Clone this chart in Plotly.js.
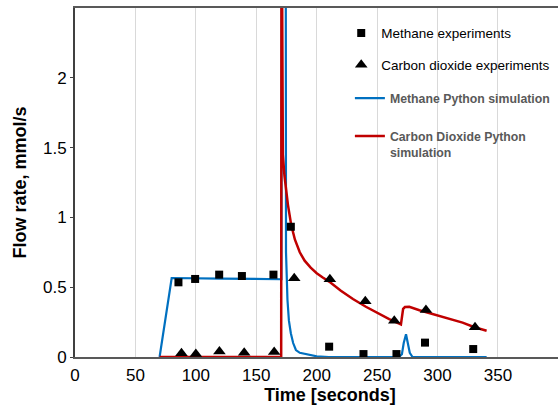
<!DOCTYPE html>
<html>
<head>
<meta charset="utf-8">
<script src="https://cdn.plot.ly/plotly-3.0.1.min.js"></script>
<style>
html, body { margin: 0; padding: 0; overflow: hidden; background: #fff; }
#chart { width: 600px; height: 412px; }
</style>
</head>
<body>
<div id="chart"></div>
<script>
// ---- data ----
const methaneExpTime = [85.6, 99.4, 119.3, 138.1, 164.2, 178.6, 210.3, 238.7, 266.0, 289.6, 329.5];
const methaneExpFlow = [0.535, 0.559, 0.590, 0.580, 0.590, 0.933, 0.074, 0.021, 0.021, 0.103, 0.057];

const co2ExpTime = [88.1, 100.0, 119.5, 140.0, 164.8, 181.4, 210.9, 240.2, 264.2, 290.4, 331.0];
const co2ExpFlow = [0.027, 0.022, 0.04, 0.03, 0.035, 0.564, 0.557, 0.40, 0.26, 0.337, 0.213];

const methaneSimTime = [70, 80, 120, 170.8, 171.2, 174.3, 174.6, 175.8, 177.0, 178.6, 180.5, 182.8, 186, 191, 200, 210, 268, 270.5, 272, 273.9, 275.5, 277, 279.3, 340.6];
const methaneSimFlow = [0, 0.566, 0.562, 0.557, 4.0, 4.0, 0.75, 0.41, 0.26, 0.17, 0.10, 0.05, 0.03, 0.02, 0.005, 0, 0, 0.02, 0.10, 0.163, 0.10, 0.03, 0, 0];

const co2SimTime = [70, 170.6, 170.9, 172.0, 173.3, 176.2, 178.9, 182, 186, 190, 195, 200, 205, 210.3, 220, 230, 240.7, 250, 260, 269.7, 270.5, 271.5, 273, 276.6, 285, 298.7, 310, 320.7, 330, 340.6];
const co2SimFlow = [0, 0, 3.5, 1.45, 1.30, 1.09, 0.946, 0.84, 0.75, 0.69, 0.64, 0.60, 0.57, 0.54, 0.475, 0.415, 0.36, 0.315, 0.272, 0.234, 0.30, 0.345, 0.358, 0.36, 0.335, 0.30, 0.27, 0.246, 0.215, 0.188];

const xTickVals = [0, 50, 100, 150, 200, 250, 300, 350];
const yTickVals = [0, 0.5, 1, 1.5, 2];
const yTickText = ["0", "0.5", "1", "1.5", "2"];

const FONT = "Liberation Sans, Arial, sans-serif";

const traces = [
  {
    x: methaneSimTime, y: methaneSimFlow, type: "scatter", mode: "lines",
    name: "Methane Python simulation",
    line: { color: "#0070C0", width: 2.2 },
    legend: "legend3"
  },
  {
    x: co2SimTime, y: co2SimFlow, type: "scatter", mode: "lines",
    name: "Carbon Dioxide Python<br>simulation",
    line: { color: "#C00000", width: 2.5 },
    legend: "legend4"
  },
  {
    x: methaneExpTime, y: methaneExpFlow, type: "scatter", mode: "markers",
    name: "Methane experiments",
    marker: { symbol: "square", size: 8, color: "#000" },
    legend: "legend"
  },
  {
    x: co2ExpTime, y: co2ExpFlow, type: "scatter", mode: "markers",
    name: "Carbon dioxide experiments",
    marker: { symbol: "triangle-up", size: 11, color: "#000" },
    legend: "legend2"
  }
];

const expLegendFont = { family: FONT, size: 13.5, color: "#000" };
const simLegendFont = { family: FONT, size: 12.3, color: "#595959", weight: "bold" };

const layout = {
  width: 600, height: 412,
  margin: { l: 75, r: 15, t: 8, b: 55 },
  paper_bgcolor: "#fff", plot_bgcolor: "#fff",
  font: { family: FONT, color: "#000" },
  showlegend: true,
  legend:  { x: 0.522, y: 0.928, xanchor: "left", yanchor: "middle", font: expLegendFont, bgcolor: "rgba(0,0,0,0)" },
  legend2: { x: 0.522, y: 0.837, xanchor: "left", yanchor: "middle", font: expLegendFont, bgcolor: "rgba(0,0,0,0)" },
  legend3: { x: 0.539, y: 0.742, xanchor: "left", yanchor: "middle", font: simLegendFont, bgcolor: "rgba(0,0,0,0)" },
  legend4: { x: 0.539, y: 0.61, xanchor: "left", yanchor: "middle", valign: "top", font: simLegendFont, bgcolor: "rgba(0,0,0,0)" },
  xaxis: {
    range: [0, 422],
    tickmode: "array", tickvals: xTickVals,
    showgrid: true, gridcolor: "#d9d9d9", gridwidth: 1,
    zeroline: false,
    showline: true, linecolor: "#595959", linewidth: 2, mirror: true,
    ticks: "", ticklabelstandoff: 2,
    tickfont: { family: FONT, size: 17, color: "#000" },
    title: { text: "Time [seconds]", font: { family: FONT, size: 18, color: "#000", weight: "bold" }, standoff: 0 }
  },
  yaxis: {
    range: [0, 2.5],
    tickmode: "array", tickvals: yTickVals, ticktext: yTickText,
    showgrid: false, zeroline: false,
    showline: true, linecolor: "#404040", linewidth: 2,
    ticks: "outside", ticklen: 3, tickcolor: "#404040",
    tickfont: { family: FONT, size: 17, color: "#000" },
    title: { text: "Flow rate, mmol/s", font: { family: FONT, size: 18, color: "#000", weight: "bold" }, standoff: 12 }
  }
};

Plotly.newPlot("chart", traces, layout, { staticPlot: true, displayModeBar: false });
</script>
</body>
</html>
